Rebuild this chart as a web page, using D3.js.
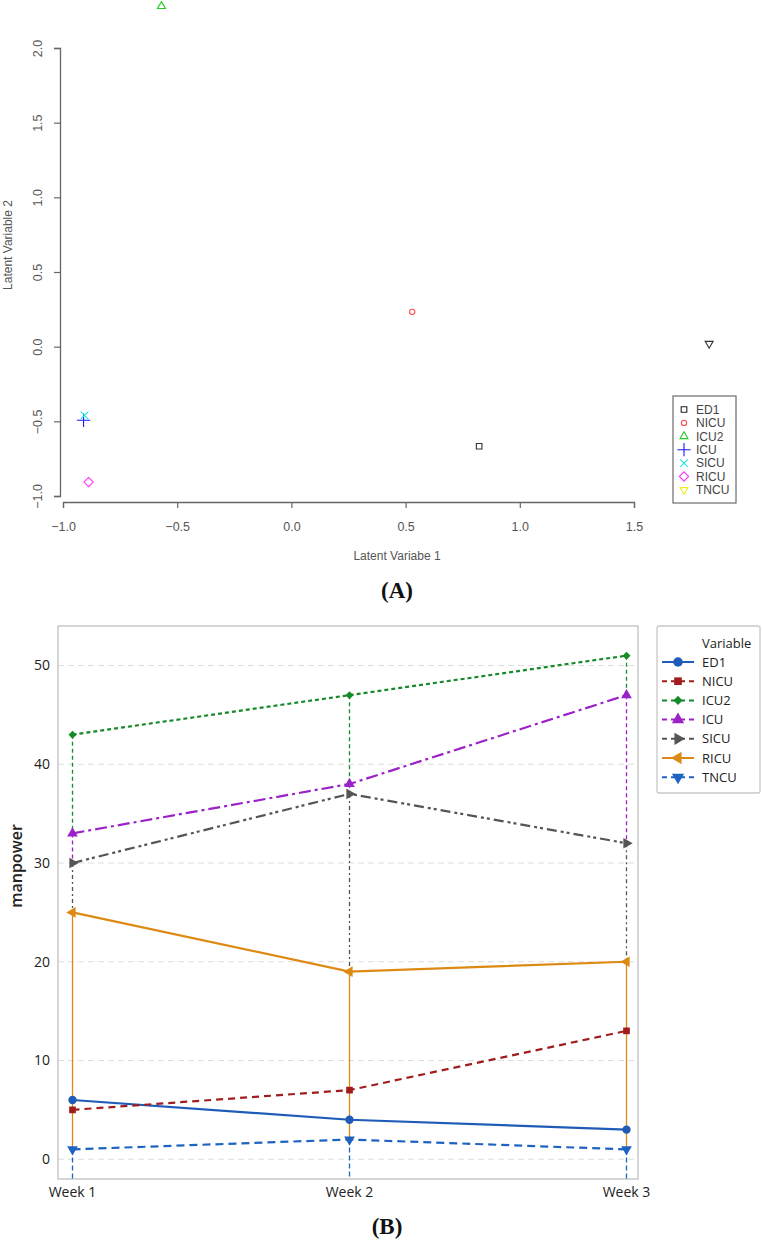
<!DOCTYPE html>
<html>
<head>
<meta charset="utf-8">
<script src="https://cdn.jsdelivr.net/npm/d3@7"></script>
<style>
  html, body { margin: 0; padding: 0; background: #fff; }
  svg { display: block; }
</style>
</head>
<body>
<svg id="chart" width="762" height="1240"></svg>
<script>
// ---------- Panel A data ----------
const unitsA = ["ED1", "NICU", "ICU2", "ICU", "SICU", "RICU", "TNCU"];
const latent1 = [0.822, 0.529, -0.569, -0.910, -0.906, -0.888, 1.829];
const latent2 = [-0.667, 0.233, 2.28, -0.493, -0.460, -0.907, 0.02];
const legendColorsA = ["#222222", "#ff4d4d", "#22cc22", "#1a1aff", "#22e5e5", "#ff33ff", "#eeee22"];
const pointColorsA = ["#333333", "#ff4d4d", "#22cc22", "#1a1aff", "#22e5e5", "#ff33ff", "#333333"];
const xTicksA = [-1.0, -0.5, 0.0, 0.5, 1.0, 1.5];
const yTicksA = [-1.0, -0.5, 0.0, 0.5, 1.0, 1.5, 2.0];

// ---------- Panel B data ----------
const weeks = ["Week 1", "Week 2", "Week 3"];
const seriesNames = ["ED1", "NICU", "ICU2", "ICU", "SICU", "RICU", "TNCU"];
const ED1 = [6, 4, 3];
const NICU = [5, 7, 13];
const ICU2 = [43, 47, 51];
const ICU = [33, 38, 47];
const SICU = [30, 37, 32];
const RICU = [25, 19, 20];
const TNCU = [1, 2, 1];
const yTicksB = [0, 10, 20, 30, 40, 50];
const colorsB = ["#1f5cb8", "#a11d1d", "#178a2a", "#9b22c9", "#555555", "#dd8a14", "#1f63c2"];

const svg = d3.select("#chart");
svg.append("rect").attr("width", 762).attr("height", 1240).attr("fill", "#fff");

// ================= PANEL A =================
const xA = d3.scaleLinear().domain([-1, 1.5]).range([63, 634]);
const yA = d3.scaleLinear().domain([-1, 2]).range([496, 48]);
const fontA = "Liberation Sans, Arial, sans-serif";
const axisColA = "#666";
const gA = svg.append("g");

// x axis (R style, bottom)
const xAxisA = gA.append("g").attr("transform", "translate(0,502)")
  .call(d3.axisBottom(xA).tickValues(xTicksA).tickFormat(d3.format(".1f")).tickSize(6).tickPadding(14));
xAxisA.select(".domain").attr("stroke", axisColA).attr("stroke-width", 1.3);
xAxisA.selectAll(".tick line").attr("stroke", axisColA).attr("stroke-width", 1.2);
xAxisA.selectAll("text").attr("font-family", fontA).attr("font-size", 12.5).attr("fill", "#555");

// y axis (R style, left, rotated labels)
const yAxisA = gA.append("g").attr("transform", "translate(60,0)")
  .call(d3.axisLeft(yA).tickValues(yTicksA).tickFormat(d3.format(".1f")).tickSize(6));
yAxisA.select(".domain").attr("stroke", axisColA).attr("stroke-width", 1.3);
yAxisA.selectAll(".tick line").attr("stroke", axisColA).attr("stroke-width", 1.2);
yAxisA.selectAll("text")
  .attr("font-family", fontA).attr("font-size", 12.5).attr("fill", "#555")
  .attr("x", 0).attr("dy", 0)
  .attr("text-anchor", "middle")
  .attr("transform", "translate(-18,0) rotate(-90)");

// axis titles
gA.append("text").attr("x", 397).attr("y", 560).attr("text-anchor", "middle")
  .attr("font-family", fontA).attr("font-size", 12).attr("fill", "#555").text("Latent Variabe 1");
gA.append("text").attr("transform", "translate(12,245) rotate(-90)").attr("text-anchor", "middle")
  .attr("font-family", fontA).attr("font-size", 12).attr("fill", "#555").text("Latent Variable 2");

// symbols
const symA = [
  d3.symbol().type(d3.symbolSquare2).size(40),
  d3.symbol().type(d3.symbolCircle).size(22),
  d3.symbol().type(d3.symbolTriangle2).size(45),
  d3.symbol().type(d3.symbolPlus).size(60),
  d3.symbol().type(d3.symbolTimes).size(40),
  d3.symbol().type(d3.symbolDiamond2).size(55),
  d3.symbol().type(d3.symbolTriangle2).size(45)
];
const rotA = [0, 0, 0, 0, 0, 0, 180];

gA.selectAll(".ptA").data(unitsA).join("path")
  .attr("class", "ptA")
  .attr("d", (d, i) => symA[i]())
  .attr("transform", (d, i) => `translate(${xA(latent1[i])},${yA(latent2[i])}) rotate(${rotA[i]})`)
  .attr("fill", "none")
  .attr("stroke", (d, i) => pointColorsA[i])
  .attr("stroke-width", 1.1);

// legend A
const legA = gA.append("g");
legA.append("rect").attr("x", 673).attr("y", 396).attr("width", 63).attr("height", 107)
  .attr("fill", "#fff").attr("stroke", "#777").attr("stroke-width", 1.3);
unitsA.forEach((u, i) => {
  const yy = 409.5 + i * 13.4;
  legA.append("path").attr("d", symA[i]())
    .attr("transform", `translate(684,${yy}) rotate(${rotA[i]})`)
    .attr("fill", "none").attr("stroke", legendColorsA[i]).attr("stroke-width", 1.1);
  legA.append("text").attr("x", 696).attr("y", yy).attr("dy", "0.36em")
    .attr("font-family", fontA).attr("font-size", 12).attr("fill", "#444").text(u);
});

// (A) label
svg.append("text").attr("x", 397).attr("y", 598).attr("text-anchor", "middle")
  .attr("font-family", "Liberation Serif, Times New Roman, serif").attr("font-weight", "bold")
  .attr("font-size", 23).attr("fill", "#111").text("(A)");

// ================= PANEL B =================
const fontB = "Open Sans, Noto Sans, sans-serif";
const pLeft = 58, pRight = 638, pTop = 626, pBottom = 1179;
const xB = d3.scalePoint().domain(weeks).range([72, 626]);
const yB = d3.scaleLinear().domain([-2, 54]).range([pBottom, pTop]);
const gB = svg.append("g");

// grid
gB.selectAll(".grid").data(yTicksB).join("line")
  .attr("x1", pLeft).attr("x2", pRight)
  .attr("y1", d => yB(d)).attr("y2", d => yB(d))
  .attr("stroke", "#dddddd").attr("stroke-width", 1).attr("stroke-dasharray", "6,4");

// y axis labels
const yAxisB = gB.append("g").attr("transform", `translate(${pLeft},0)`)
  .call(d3.axisLeft(yB).tickValues(yTicksB).tickSize(0).tickPadding(8));
yAxisB.select(".domain").remove();
yAxisB.selectAll("text").attr("font-family", fontB).attr("font-size", 14).attr("fill", "#222");

// x axis labels
const xAxisB = gB.append("g").attr("transform", `translate(0,${pBottom})`)
  .call(d3.axisBottom(xB).tickSize(0).tickPadding(8));
xAxisB.select(".domain").remove();
xAxisB.selectAll(".tick line").remove();
xAxisB.selectAll("text").attr("font-family", fontB).attr("font-size", 14).attr("fill", "#222");

// frame
gB.append("rect").attr("x", pLeft).attr("y", pTop).attr("width", pRight - pLeft).attr("height", pBottom - pTop)
  .attr("fill", "none").attr("stroke", "#c8c8c8").attr("stroke-width", 1.5);

// y title
gB.append("text").attr("transform", "translate(22,866) rotate(-90)").attr("text-anchor", "middle")
  .attr("font-family", fontB).attr("font-weight", 600).attr("font-size", 16).attr("fill", "#222").text("manpower");

const dataB = [ED1, NICU, ICU2, ICU, SICU, RICU, TNCU];
const dashB = [null, "7,5", "4,3", "12,4,3,4", "10,4,3,3,3,4", null, "8,5"];
const dropDash = [null, "5,3", "4,3", "4,3", "4,3,2,3", null, "5,3"];

function markerPath(i, size) {
  const types = [d3.symbolCircle, d3.symbolSquare, d3.symbolSquare, d3.symbolTriangle,
                 d3.symbolTriangle, d3.symbolTriangle, d3.symbolTriangle];
  return d3.symbol().type(types[i]).size(size)();
}
const rotB = [0, 0, 45, 0, 90, -90, 180];
const sizeB = [55, 45, 32, 50, 50, 50, 50];

// drop lines (projection to bottom): each series' drop is visible from its value down to
// the highest value of any series drawn after it (those cover the rest of the line).
const dropSegs = [];
dataB.forEach((vals, i) => {
  vals.forEach((v, j) => {
    const later = dataB.slice(i + 1).map(s => s[j]);
    const lowY = later.length ? yB(Math.max(...later)) : pBottom;
    const y1 = yB(v);
    if (lowY > y1) dropSegs.push({ i, j, y1, y2: lowY });
  });
});
gB.selectAll(".drop").data(dropSegs).join("line")
  .attr("class", "drop")
  .attr("x1", d => xB(weeks[d.j]) + 0.5).attr("x2", d => xB(weeks[d.j]) + 0.5)
  .attr("y1", d => d.y1).attr("y2", d => d.y2)
  .attr("stroke", d => colorsB[d.i]).attr("stroke-width", 1.3)
  .attr("stroke-dasharray", d => dropDash[d.i]);

// series lines
const lineGen = d3.line().x((d, j) => xB(weeks[j]) + 0.5).y(d => yB(d));
dataB.forEach((vals, i) => {
  gB.append("path").datum(vals).attr("d", lineGen)
    .attr("fill", "none").attr("stroke", colorsB[i]).attr("stroke-width", 2.2)
    .attr("stroke-dasharray", dashB[i]);
});

// markers
dataB.forEach((vals, i) => {
  gB.selectAll(".mk" + i).data(vals).join("path")
    .attr("class", "mk" + i)
    .attr("d", markerPath(i, sizeB[i]))
    .attr("transform", (d, j) => `translate(${xB(weeks[j]) + 0.5},${yB(d)}) rotate(${rotB[i]})`)
    .attr("fill", colorsB[i]);
});

// legend B
const legB = gB.append("g");
legB.append("rect").attr("x", 657).attr("y", 626).attr("width", 103).attr("height", 167).attr("rx", 2)
  .attr("fill", "#fff").attr("stroke", "#c8c8c8").attr("stroke-width", 1.3);
legB.append("text").attr("x", 702).attr("y", 643).attr("dy", "0.35em")
  .attr("font-family", fontB).attr("font-size", 13).attr("fill", "#222").text("Variable");
seriesNames.forEach((s, i) => {
  const yy = 662 + i * 19.2;
  legB.append("line").attr("x1", 662).attr("x2", 694).attr("y1", yy).attr("y2", yy)
    .attr("stroke", colorsB[i]).attr("stroke-width", 2)
    .attr("stroke-dasharray", dashB[i] ? "5,4" : null);
  legB.append("path").attr("d", markerPath(i, sizeB[i] * 1.3))
    .attr("transform", `translate(678,${yy}) rotate(${rotB[i]})`).attr("fill", colorsB[i]);
  legB.append("text").attr("x", 702).attr("y", yy).attr("dy", "0.35em")
    .attr("font-family", fontB).attr("font-size", 13).attr("fill", "#222").text(s);
});

// (B) label
svg.append("text").attr("x", 387).attr("y", 1234).attr("text-anchor", "middle")
  .attr("font-family", "Liberation Serif, Times New Roman, serif").attr("font-weight", "bold")
  .attr("font-size", 23).attr("fill", "#111").text("(B)");
</script>
</body>
</html>
